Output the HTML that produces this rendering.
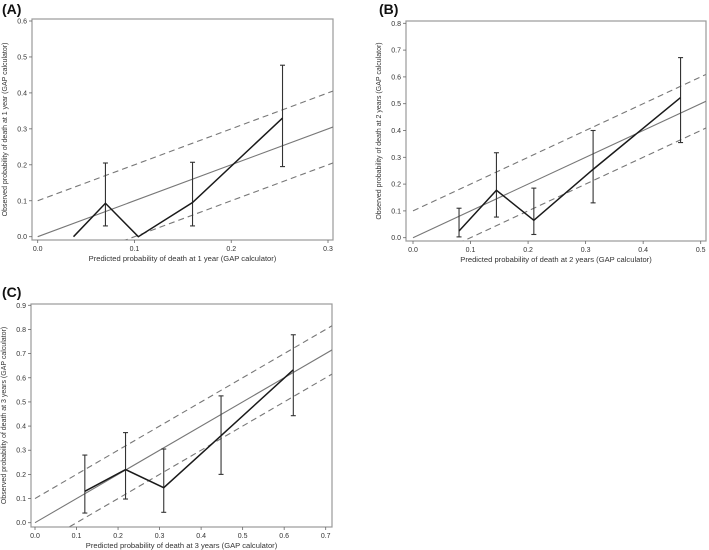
<!DOCTYPE html>
<html><head><meta charset="utf-8"><style>
body{margin:0;background:#fff;}
svg{display:block;font-family:"Liberation Sans",sans-serif;}
</style></head><body>
<svg id="fig" width="709" height="550" viewBox="0 0 709 550" xmlns="http://www.w3.org/2000/svg"></svg>
<script>
// Panel A data
const aX = [0.037, 0.07, 0.104, 0.16, 0.253];
const aY = [0.0, 0.093, 0.0, 0.095, 0.33];
const aErrX = [0.07, 0.16, 0.253];
const aErrLo = [0.03, 0.03, 0.195];
const aErrHi = [0.205, 0.207, 0.477];
const aXTicks = [0.0, 0.1, 0.2, 0.3];
const aYTicks = [0.0, 0.1, 0.2, 0.3, 0.4, 0.5, 0.6];
// Panel B data
const bX = [0.08, 0.145, 0.21, 0.313, 0.465];
const bY = [0.025, 0.177, 0.065, 0.255, 0.523];
const bErrX = [0.08, 0.145, 0.21, 0.313, 0.465];
const bErrLo = [0.003, 0.077, 0.012, 0.13, 0.355];
const bErrHi = [0.11, 0.317, 0.185, 0.4, 0.672];
const bXTicks = [0.0, 0.1, 0.2, 0.3, 0.4, 0.5];
const bYTicks = [0.0, 0.1, 0.2, 0.3, 0.4, 0.5, 0.6, 0.7, 0.8];
// Panel C data
const cX = [0.12, 0.218, 0.31, 0.448, 0.622];
const cY = [0.13, 0.22, 0.145, 0.36, 0.633];
const cErrX = [0.12, 0.218, 0.31, 0.448, 0.622];
const cErrLo = [0.04, 0.098, 0.043, 0.2, 0.443];
const cErrHi = [0.28, 0.373, 0.305, 0.525, 0.778];
const cXTicks = [0.0, 0.1, 0.2, 0.3, 0.4, 0.5, 0.6, 0.7];
const cYTicks = [0.0, 0.1, 0.2, 0.3, 0.4, 0.5, 0.6, 0.7, 0.8, 0.9];

const NS = "http://www.w3.org/2000/svg";
const svg = document.getElementById('fig');
function mk(tag, attrs, parent){const e=document.createElementNS(NS,tag);for(const k in attrs)e.setAttribute(k,attrs[k]);(parent||svg).appendChild(e);return e;}

function panel(id, label, cfg, xs, ys, ex, elo, ehi, xt, yt, xtitle, ytitle){
  const g = mk('g',{});
  
  
  const sx = v => cfg.x0 + (v - 0) / cfg.xmax * (cfg.x1 - cfg.x0);
  const sy = v => cfg.y0 - v / cfg.ymax * (cfg.y0 - cfg.y1);
  const clip = mk('clipPath',{id:'clip'+id},g);
  mk('rect',{x:cfg.L,y:cfg.T,width:cfg.R-cfg.L,height:cfg.B-cfg.T},clip);
  const t = mk('text',{x:cfg.labX,y:cfg.labY,'font-size':14,'font-weight':'bold',fill:'#111'},g);
  t.textContent = label;
  
  
  const fr = mk('rect',{x:cfg.L,y:cfg.T,width:cfg.R-cfg.L,height:cfg.B-cfg.T,fill:'none',stroke:'#999','stroke-width':1.2},g);
  
  
  xt.forEach(v=>{
    mk('line',{x1:sx(v),x2:sx(v),y1:cfg.B,y2:cfg.B+3,stroke:'#666','stroke-width':0.8},g);
    const tt = mk('text',{x:sx(v),y:cfg.B+11,'font-size':7,'text-anchor':'middle',fill:'#333'},g);
    tt.textContent = v.toFixed(1);
    
    
  });
  yt.forEach(v=>{
    mk('line',{x1:cfg.L-3,x2:cfg.L,y1:sy(v),y2:sy(v),stroke:'#666','stroke-width':0.8},g);
    const tt = mk('text',{x:cfg.L-5,y:sy(v)+2.5,'font-size':7,'text-anchor':'end',fill:'#333'},g);
    tt.textContent = v.toFixed(1);
    
    
  });
  const xtl = mk('text',{x:(cfg.L+cfg.R)/2,y:cfg.B+21,'font-size':7.6,'text-anchor':'middle',fill:'#333'},g);
  xtl.textContent = xtitle;
  
  
  const ytx = cfg.L-25, yty=(cfg.T+cfg.B)/2;
  const ytl = mk('text',{x:ytx,y:yty,'font-size':7,'text-anchor':'middle',fill:'#333',transform:`rotate(-90 ${ytx} ${yty})`},g);
  ytl.textContent = ytitle;
  
  
  const pg = mk('g',{'clip-path':`url(#clip${id})`},g);
  const xe = cfg.xmax*1.1;
  const idl = mk('line',{x1:sx(0),y1:sy(0),x2:sx(xe),y2:sy(xe),stroke:'#777','stroke-width':1.1},pg);
  
  
  [0.1,-0.1].forEach(o=>{
    const d = mk('line',{x1:sx(0),y1:sy(o),x2:sx(xe),y2:sy(xe+o),stroke:'#777','stroke-width':1.1,'stroke-dasharray':'6,4'},pg);
    
    
  });
  ex.forEach((v,i)=>{
    const eb = mk('g',{stroke:'#333','stroke-width':1.1},g);
    
    
    mk('line',{x1:sx(v),x2:sx(v),y1:sy(elo[i]),y2:sy(ehi[i])},eb);
    mk('line',{x1:sx(v)-2.5,x2:sx(v)+2.5,y1:sy(elo[i]),y2:sy(elo[i])},eb);
    mk('line',{x1:sx(v)-2.5,x2:sx(v)+2.5,y1:sy(ehi[i]),y2:sy(ehi[i])},eb);
  });
  const pts = xs.map((v,i)=>sx(v)+','+sy(ys[i])).join(' ');
  const pl = mk('polyline',{points:pts,fill:'none',stroke:'#1a1a1a','stroke-width':1.5},g);
  
  
}

panel('A','(A)',{L:32,R:333,T:19,B:240,x0:37.7,x1:328,xmax:0.3,y0:236.7,y1:21,ymax:0.6,labX:2,labY:14},
  aX,aY,aErrX,aErrLo,aErrHi,aXTicks,aYTicks,
  'Predicted probability of death at 1 year (GAP calculator)','Observed probability of death at 1 year (GAP calculator)');
panel('B','(B)',{L:406,R:706,T:21,B:241,x0:413,x1:700.7,xmax:0.5,y0:237.7,y1:23.3,ymax:0.8,labX:379,labY:14},
  bX,bY,bErrX,bErrLo,bErrHi,bXTicks,bYTicks,
  'Predicted probability of death at 2 years (GAP calculator)','Observed probability of death at 2 years (GAP calculator)');
panel('C','(C)',{L:31,R:332,T:304,B:527,x0:35,x1:325.7,xmax:0.7,y0:522.7,y1:305.3,ymax:0.9,labX:2,labY:297},
  cX,cY,cErrX,cErrLo,cErrHi,cXTicks,cYTicks,
  'Predicted probability of death at 3 years (GAP calculator)','Observed probability of death at 3 years (GAP calculator)');
</script>
</body></html>
